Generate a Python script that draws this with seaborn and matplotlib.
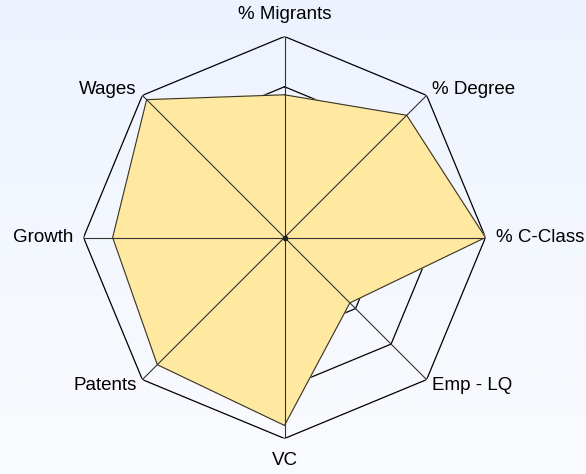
import numpy as np
import matplotlib
matplotlib.use("Agg")
import matplotlib.pyplot as plt
from matplotlib.colors import LinearSegmentedColormap
import seaborn as sns

# Radar chart data (scores relative to max)
categories = ['% Migrants', '% Degree', '% C-Class', 'Emp - LQ',
              'VC', 'Patents', 'Growth', 'Wages']
values = [0.71, 0.86, 1.00, 0.46, 0.935, 0.895, 0.855, 0.97]
ring_levels = [0.25, 0.5, 0.75, 1.0]

sns.set_theme(style="white")
plt.rcParams['font.family'] = ['Liberation Sans', 'DejaVu Sans']

fig = plt.figure(figsize=(5.86, 4.74), dpi=100)

# background gradient
bg = fig.add_axes([0, 0, 1, 1], zorder=-1)
grad = np.linspace(0, 1, 256).reshape(-1, 1)
cmap = LinearSegmentedColormap.from_list('bg', ['#edf3fe', '#fafbfe'])
bg.imshow(grad, aspect='auto', cmap=cmap, extent=[0, 1, 0, 1])
bg.axis('off')

ax = fig.add_axes([83.5 / 586, 35.5 / 474, 402 / 586, 402 / 474], projection='polar')
ax.patch.set_alpha(0)
ax.set_theta_offset(np.pi / 2)
ax.set_theta_direction(-1)
ax.set_ylim(0, 1)
ax.grid(False)
ax.spines['polar'].set_visible(False)
ax.set_xticks([])
ax.set_yticks([])

n = len(categories)
theta = np.linspace(0, 2 * np.pi, n, endpoint=False)
theta_closed = np.append(theta, theta[0] + 2 * np.pi)

# octagonal rings
for lvl in ring_levels:
    ax.plot(theta_closed, [lvl] * (n + 1), color='black', lw=0.9, zorder=1)

# filled area
vals_closed = values + values[:1]
ax.fill(theta_closed, vals_closed, color='#ffe9a0', zorder=2)
sns.lineplot(x=theta_closed, y=vals_closed, sort=False, estimator=None,
             color='#333333', lw=0.8, ax=ax, zorder=3)

# spokes
for t in theta:
    ax.plot([t, t], [0, 1], color='#333333', lw=0.8, zorder=3)
ax.plot([0], [0], 'o', color='#222222', ms=3, zorder=4)

# axis labels
for t, lab in zip(theta, categories):
    s, c = np.sin(t), np.cos(t)
    if abs(s) < 1e-6:
        ax.text(t, 1.11, lab, ha='center', va='center', fontsize=13.5, color='black')
    elif abs(c) < 1e-6:
        ax.text(t, 1.05, lab, ha='left' if s > 0 else 'right', va='center',
                fontsize=13.5, color='black')
    else:
        ax.text(t, 1.04, lab, ha='left' if s > 0 else 'right', va='center',
                fontsize=13.5, color='black')

fig.savefig('out.png', dpi=100)
